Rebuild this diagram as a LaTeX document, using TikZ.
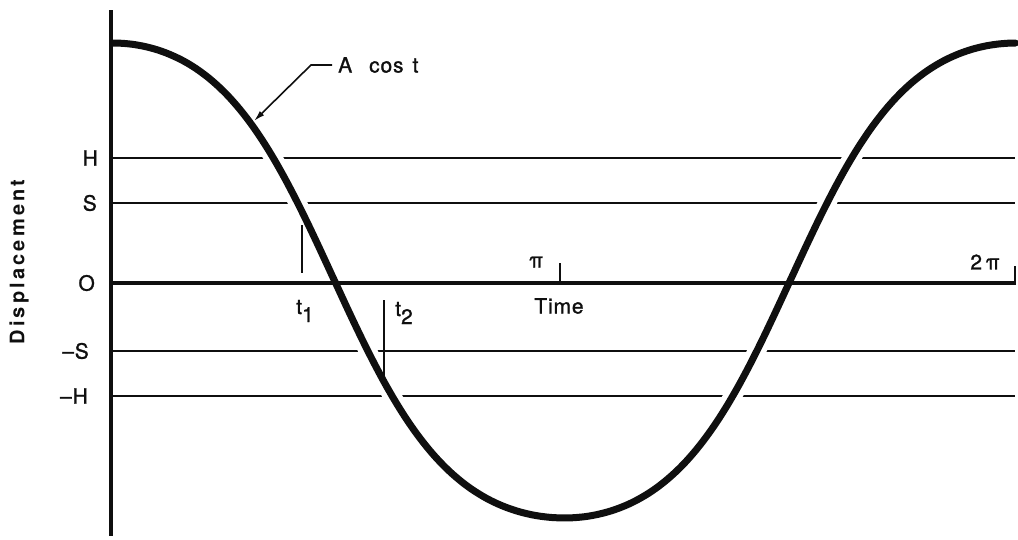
\documentclass[tikz,border=0pt]{standalone}
\usepackage{fontspec}
\setmainfont{TeX Gyre Heros}
\newfontfamily\plotfont[LetterSpace=4, FakeBold=1.2]{TeX Gyre Heros}
\newfontfamily\axisfont[LetterSpace=16]{TeX Gyre Heros}
\usepackage{tikz}
\usetikzlibrary{arrows.meta, positioning, calc}
\definecolor{inkdark}{RGB}{15,15,15}
\tikzset{
  curve/.style={line width=7pt, color=inkdark, line cap=round, line join=round},
  halo/.style={line width=18pt, color=white},
  axisline/.style={line width=4.5pt, color=inkdark},
  zeroline/.style={line width=4pt, color=inkdark},
  levelline/.style={line width=1.8pt, color=inkdark},
  tickmark/.style={line width=1.8pt, color=inkdark},
  leader/.style={line width=1.6pt, color=inkdark, -{Latex[length=11pt,width=6pt]}},
  lbl/.style={font=\plotfont\fontsize{21}{24}\selectfont, inner sep=0pt, text=inkdark}
}

\begin{document}
\begin{tikzpicture}[x=1pt, y=-1pt]
  \useasboundingbox (0,0) rectangle (1018,539);

  % --- Threshold levels ---
  \draw[levelline] (111,158) -- (1015,158);
  \draw[levelline] (111,203) -- (1015,203);
  \draw[levelline] (111,351) -- (1015,351);
  \draw[levelline] (111,396) -- (1015,396);

  % --- Displacement curve (white halo breaks the thin lines) ---
  \draw[curve, preaction={draw, halo}]
    plot[domain=0:6.2832, samples=240, smooth]
    ({113+\x*143.7},
     {280.5-237.5*tanh(cos((\x+0.03*max(sin(\x r),0)) r))/0.7616});

  % --- Axes ---
  \draw[zeroline] (111,283) -- (1016,283);
  \draw[axisline] (111,10) -- (111,536);

  % --- Ticks ---
  \draw[tickmark] (560,263) -- (560,283);
  \draw[tickmark] (1015,266) -- (1015,283);
  \draw[tickmark] (302,225) -- (302,273);
  \draw[tickmark] (384,300) -- (384,380);

  % --- Labels ---
  \node[lbl, anchor=east] (lH) at (98,158) {H};
  \node[lbl, anchor=east] (lS) at (97,203) {S};
  \node[lbl, anchor=east] (lO) at (95,283) {O};
  \node[lbl, anchor=east] (lnS) at (89,351) {\textendash S};
  \node[lbl, anchor=east] (lnH) at (88,396) {\textendash H};
  \node[lbl, font=\axisfont\bfseries\fontsize{20}{24}\selectfont, rotate=90]
    (ldisp) at (19,262) {Displacement};

  \node[lbl] (lpi) at (536,262) {π};
  \node[lbl] (l2pi) at (985,262) {2\,π};
  \node[lbl] (ltime) at (559,306) {Time};
  \node[lbl] (lt1) at (305,311) {t\raisebox{-8pt}{1}};
  \node[lbl] (lt2) at (404,313) {t\raisebox{-8pt}{2}};

  % --- Curve label with leader ---
  \node[lbl, anchor=west] (acos) at (338,65) {A\hspace{17pt}cos\hspace{9pt}t};
  \coordinate (tip) at (254,121);
  \draw[leader] ([xshift=-6pt]acos.west) -- ++(-21,0) -- (tip);
\end{tikzpicture}
\end{document}
